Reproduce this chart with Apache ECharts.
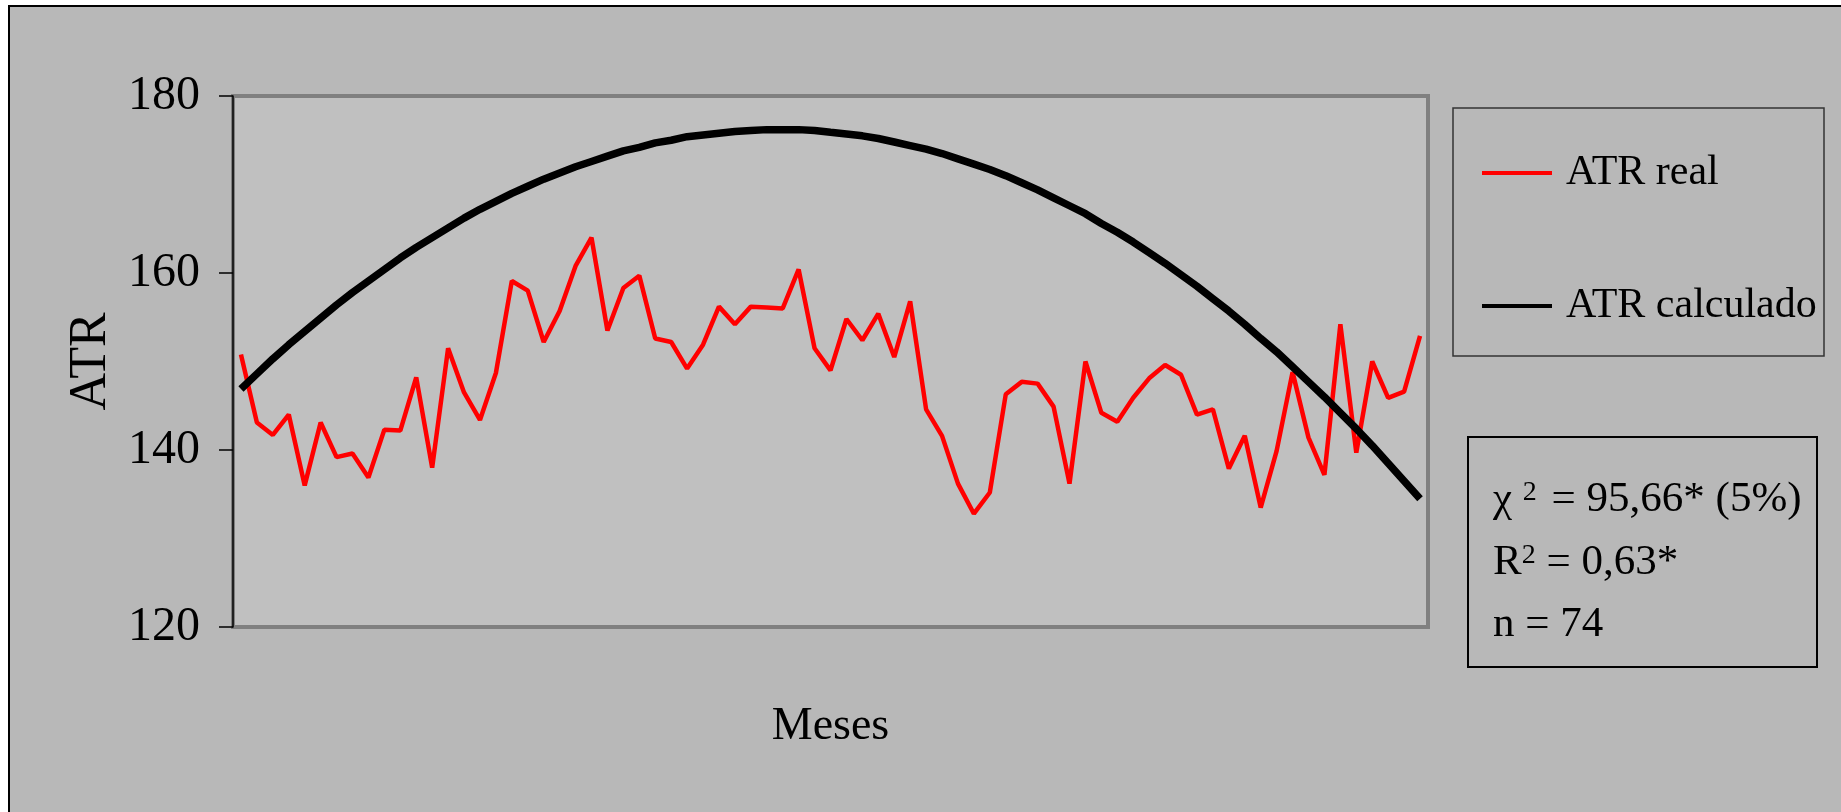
<!DOCTYPE html>
<html>
<head>
<meta charset="utf-8">
<title>ATR real x ATR calculado</title>
<script src="https://cdn.jsdelivr.net/npm/echarts@6/dist/echarts.min.js"></script>
<style>
  html, body { margin: 0; padding: 0; background: #fff; }
  #chart { width: 1841px; height: 812px; }
</style>
</head>
<body>
<div id="chart"></div>
<script>
// meses (eixo x sem rótulos)
const meses = [1, 2, 3, 4, 5, 6, 7, 8, 9, 10, 11, 12, 13, 14, 15, 16, 17, 18, 19, 20,
  21, 22, 23, 24, 25, 26, 27, 28, 29, 30, 31, 32, 33, 34, 35, 36, 37, 38, 39, 40,
  41, 42, 43, 44, 45, 46, 47, 48, 49, 50, 51, 52, 53, 54, 55, 56, 57, 58, 59, 60,
  61, 62, 63, 64, 65, 66, 67, 68, 69, 70, 71, 72, 73, 74, 75];

// ATR observado
const atrReal = [150.8, 143.1, 141.7, 144.0, 136.0, 143.1, 139.2, 139.6, 136.9, 142.3,
  142.2, 148.2, 138.0, 151.5, 146.5, 143.4, 148.7, 159.1, 158.0, 152.2,
  155.7, 160.8, 164.0, 153.5, 158.3, 159.7, 152.6, 152.2, 149.2, 151.9,
  156.2, 154.2, 156.2, 156.1, 156.0, 160.4, 151.5, 149.0, 154.8, 152.4,
  155.4, 150.5, 156.8, 144.6, 141.6, 136.2, 132.8, 135.2, 146.3, 147.7,
  147.5, 144.9, 136.2, 150.0, 144.2, 143.2, 145.9, 148.1, 149.6, 148.5,
  144.0, 144.6, 137.9, 141.6, 133.5, 139.9, 148.8, 141.4, 137.2, 154.2,
  139.7, 150.0, 145.9, 146.6, 152.9];

// ATR calculado (curva ajustada)
const atrCalc = [146.9, 148.6, 150.3, 151.9, 153.4, 154.9, 156.4, 157.8, 159.1, 160.4,
  161.7, 162.9, 164.0, 165.1, 166.2, 167.2, 168.1, 169.0, 169.8, 170.6,
  171.3, 172.0, 172.6, 173.2, 173.8, 174.2, 174.7, 175.0, 175.4, 175.6,
  175.8, 176.0, 176.1, 176.2, 176.2, 176.2, 176.1, 175.9, 175.7, 175.5,
  175.2, 174.8, 174.4, 174.0, 173.5, 172.9, 172.3, 171.7, 171.0, 170.2,
  169.4, 168.5, 167.6, 166.7, 165.6, 164.6, 163.5, 162.3, 161.1, 159.8,
  158.5, 157.1, 155.7, 154.2, 152.6, 151.1, 149.4, 147.7, 146.0, 144.2,
  142.4, 140.5, 138.5, 136.5, 134.5];

const yMin = 120, yMax = 180, yStep = 20;
const font = "Liberation Serif";

const myChart = echarts.init(document.getElementById("chart"));
const option = {
  animation: false,
  backgroundColor: "#b8b8b8",
  textStyle: { fontFamily: font, color: "#000" },
  grid: {
    left: 233,
    top: 96,
    width: 1195,
    height: 531,
    show: true,
    backgroundColor: "#c0c0c0",
    borderColor: "#808080",
    borderWidth: 4,
  },
  legend: {
    orient: "vertical",
    left: 1477,
    top: 143,
    icon: "rect",
    itemWidth: 70,
    itemHeight: 4,
    itemGap: 83,
    textStyle: { fontFamily: font, fontSize: 42, color: "#000", lineHeight: 50, padding: [0, 0, 0, 9] },
    data: ["ATR real", "ATR calculado"],
  },
  xAxis: {
    type: "category",
    data: meses,
    boundaryGap: true,
    axisLine: { show: false },
    axisTick: { show: false },
    axisLabel: { show: false },
    name: "Meses",
    nameLocation: "middle",
    nameGap: 77,
    nameTextStyle: { fontFamily: font, fontSize: 46, color: "#000" },
  },
  yAxis: {
    type: "value",
    min: yMin,
    max: yMax,
    interval: yStep,
    axisLine: { show: true, lineStyle: { color: "#000", width: 1.5 } },
    axisTick: { show: true, inside: false, length: 14, lineStyle: { color: "#000", width: 1.5 } },
    axisLabel: { fontFamily: font, fontSize: 48, color: "#000", margin: 33 },
    splitLine: { show: false },
    name: "ATR",
    nameLocation: "middle",
    nameGap: 116,
    nameTextStyle: { fontFamily: font, fontSize: 52, color: "#000" },
  },
  series: [
    {
      name: "ATR real",
      type: "line",
      data: atrReal,
      symbol: "none",
      lineStyle: { color: "#ff0000", width: 4.5 },
      itemStyle: { color: "#ff0000" },
    },
    {
      name: "ATR calculado",
      type: "line",
      data: atrCalc,
      symbol: "none",
      lineStyle: { color: "#000", width: 7.5 },
      itemStyle: { color: "#000" },
    },
  ],
  graphic: [
    // moldura externa
    { type: "rect", shape: { x: 0, y: 0, width: 1841, height: 5 }, style: { fill: "#fff" } },
    { type: "rect", shape: { x: 0, y: 0, width: 8, height: 812 }, style: { fill: "#fff" } },
    { type: "line", shape: { x1: 9, y1: 5, x2: 9, y2: 812 }, style: { stroke: "#000", lineWidth: 2 } },
    { type: "line", shape: { x1: 8, y1: 6, x2: 1841, y2: 6 }, style: { stroke: "#000", lineWidth: 2 } },
    // caixa da legenda
    { type: "rect", shape: { x: 1453, y: 108, width: 371, height: 248 }, style: { fill: "none", stroke: "#333", lineWidth: 1.5 } },
    // caixa das estatísticas
    { type: "rect", shape: { x: 1468, y: 437, width: 349, height: 230 }, style: { fill: "none", stroke: "#000", lineWidth: 2 } },
    {
      type: "text", x: 1493, y: 500,
      style: {
        text: "{a|χ }{s|2}{a| = 95,66* (5%)}",
        verticalAlign: "middle",
        rich: {
          a: { fontFamily: font, fontSize: 43, fill: "#000", verticalAlign: "middle" },
          s: { fontFamily: font, fontSize: 28, fill: "#000", verticalAlign: "top", padding: [0, 4, 0, 0] },
        },
      },
    },
    {
      type: "text", x: 1493, y: 563,
      style: {
        text: "{a|R}{s|2}{a| = 0,63*}",
        verticalAlign: "middle",
        rich: {
          a: { fontFamily: font, fontSize: 43, fill: "#000", verticalAlign: "middle" },
          s: { fontFamily: font, fontSize: 28, fill: "#000", verticalAlign: "top" },
        },
      },
    },
    {
      type: "text", x: 1493, y: 625,
      style: { text: "n = 74", verticalAlign: "middle", fontFamily: font, fontSize: 43, fill: "#000" },
    },
  ],
};
myChart.setOption(option);
window.addEventListener("resize", () => {
  myChart.resize();
});
</script>
</body>
</html>
